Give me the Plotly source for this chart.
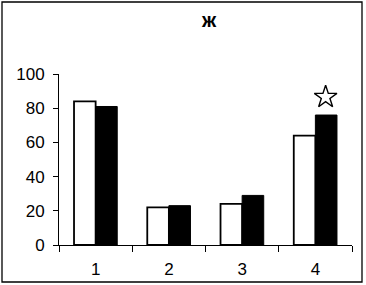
import plotly.graph_objects as go

categories = ["1", "2", "3", "4"]
series_white = [84, 22, 24, 64]
series_black = [81, 23, 29, 76]
star_x = [4.14]
star_y = [86.5]
y_ticks = [0, 20, 40, 60, 80, 100]
title_text = "ж"

W, H = 366, 285
L, R, T, B = 59, 14, 74, 40
pw = W - L - R
ph = H - T - B

fig = go.Figure()
fig.add_trace(go.Bar(x=categories, y=series_white, marker=dict(color="white", line=dict(color="black", width=1.8)), showlegend=False))
fig.add_trace(go.Bar(x=categories, y=series_black, marker=dict(color="black", line=dict(color="black", width=1)), showlegend=False))
fig.add_trace(go.Scatter(x=star_x, y=star_y, xaxis="x2", mode="markers",
                         marker=dict(symbol="star-open", size=17, color="black", line=dict(width=1.4, color="black")),
                         showlegend=False))

font = dict(family="Liberation Sans, Arial, sans-serif", size=17, color="black")
fig.update_layout(
    width=W, height=H,
    margin=dict(l=L, r=R, t=T, b=B, pad=0, autoexpand=False),
    paper_bgcolor="white", plot_bgcolor="white",
    barmode="group", bargap=0.41, bargroupgap=0,
    font=font,
    xaxis=dict(type="category", showline=True, linecolor="black", linewidth=1,
               ticks="outside", tickson="boundaries", ticklen=6, tickcolor="black",
               showgrid=False, zeroline=False, ticklabelstandoff=9, automargin=False),
    xaxis2=dict(overlaying="x", range=[0.5, 4.5], visible=False),
    yaxis=dict(range=[0, 100], tickvals=y_ticks, showline=True, linecolor="black", linewidth=1,
               ticks="outside", ticklen=5, tickcolor="black", showgrid=False, zeroline=False,
               ticklabelstandoff=5, automargin=False),
    annotations=[dict(text="<b>" + title_text + "</b>", x=(209 - L) / pw, y=(T + ph - 20) / ph,
                      xref="paper", yref="paper", showarrow=False,
                      font=dict(family="Liberation Sans, Arial, sans-serif", size=20, color="black"),
                      xanchor="center", yanchor="middle")],
    shapes=[dict(type="rect", xref="paper", yref="paper",
                 x0=(2 - L) / pw, x1=(362 - L) / pw,
                 y0=-(282 - T - ph) / ph, y1=(T + ph - 2) / ph,
                 line=dict(color="black", width=1.3))],
)

fig.write_html("out.html", config={"displayModeBar": False},
               post_script="document.body.style.margin='0';document.body.style.overflow='hidden';")
